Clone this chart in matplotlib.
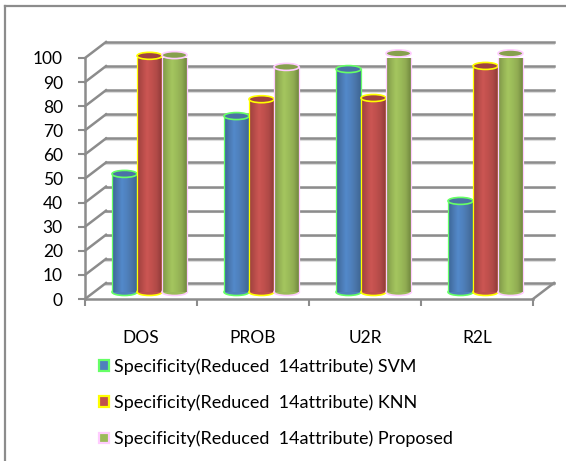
import numpy as np
from matplotlib import pyplot as plt
from matplotlib.colors import LinearSegmentedColormap
from matplotlib.lines import Line2D
from matplotlib.patches import Ellipse, Patch

categories = ['DOS', 'PROB', 'U2R', 'R2L']
series_names = ['Specificity(Reduced  14attribute) SVM',
                'Specificity(Reduced  14attribute) KNN',
                'Specificity(Reduced  14attribute) Proposed']
svm = [49, 73, 92.5, 37.8]
knn = [98, 80, 80.5, 93.8]
proposed = [98.3, 93.4, 99, 99]
y_ticks = list(range(0, 101, 10))

plt.rcParams['font.family'] = ['Lato', 'DejaVu Sans']

W, H = 566, 461
GRAY = '#8c8c8c'

series = [svm, knn, proposed]
edges = ['#66ff66', '#ffff00', '#ffccff']
mains = ['#4f81bd', '#c0504d', '#9bbb59']
tops = ['#4a72a6', '#a04340', '#87a04e']
shades = [['#3b6596', '#4a78b0', '#5389ca', '#4f81bd', '#4a75a8', '#3e6694'],
          ['#9c403e', '#b54b48', '#cc5653', '#c0504d', '#b04a47', '#8f3b39'],
          ['#7c9347', '#93b054', '#a5c65f', '#9bbb59', '#90ab52', '#71883f']]

fig = plt.figure(figsize=(W / 100, H / 100), dpi=100)
ax = fig.add_axes([85 / W, 1 - 299 / H, 448 / W, 241 / H])

px = 4 / 448       # one pixel in x units
py = 100 / 241     # one pixel in y units
dx, dy = 21 * px, 16 * py
base = 7 * py
bar_w = 25 * px
start = 27 * px

# back wall and floor
for v in y_ticks:
    ax.plot([dx, 4 + dx], [v + dy - 1.6 * py] * 2, color='#dcdcdc', lw=1.5, zorder=1, clip_on=False)
    ax.plot([dx, 4 + dx], [v + dy] * 2, color=GRAY, lw=1.8, zorder=2, clip_on=False)
    ax.plot([0, dx], [v, v + dy], color=GRAY, lw=1.8, zorder=2, clip_on=False)
ax.plot([4, 4 + dx], [0, dy], color=GRAY, lw=1.8, zorder=2, clip_on=False)

# cylinders
for i, values in enumerate(series):
    cmap = LinearSegmentedColormap.from_list('c%d' % i, shades[i])
    for j, val in enumerate(values):
        x0 = j + start + i * bar_w
        x1 = x0 + bar_w
        xc = (x0 + x1) / 2
        top = base + val
        ax.add_patch(Ellipse((xc, base), bar_w, 7 * py, facecolor=mains[i], edgecolor=edges[i],
                             lw=1.2, zorder=4 + i))
        ax.imshow(np.linspace(0, 1, 64).reshape(1, -1), cmap=cmap, aspect='auto',
                  extent=(x0, x1, base, top), zorder=4 + i)
        ax.plot([x0, x0], [base, top], color=edges[i], lw=0.9, zorder=4 + i)
        ax.plot([x1, x1], [base, top], color=edges[i], lw=0.9, zorder=4 + i)
        ax.add_patch(Ellipse((xc, top), bar_w, 7 * py, facecolor=tops[i], edgecolor=edges[i],
                             lw=1.2, zorder=4 + i, clip_on=False))

ax.set_xlim(0, 4)
ax.set_ylim(0, 100)
ax.set_facecolor('none')

for s in ['top', 'right']:
    ax.spines[s].set_visible(False)
for s in ['left', 'bottom']:
    ax.spines[s].set_color(GRAY)
    ax.spines[s].set_linewidth(1.8)
    ax.spines[s].set_zorder(3)

ax.set_yticks(y_ticks)
ax.tick_params(axis='y', length=5, width=1.5, color=GRAY, labelsize=12.5, pad=11, labelcolor='black')
ax.set_xticks(range(5))
ax.set_xticklabels([])
ax.tick_params(axis='x', which='major', length=5, width=1.5, color=GRAY)
ax.set_xticks([k + 0.5 for k in range(4)], minor=True)
ax.set_xticklabels(categories, minor=True, fontsize=12.5)
ax.tick_params(axis='x', which='minor', length=0, pad=22)

handles = [Patch(facecolor=mains[i], edgecolor=edges[i], lw=1.6) for i in range(3)]
fig.legend(handles, series_names, loc='upper left', bbox_to_anchor=(99 / W, 1 - 358 / H),
           frameon=False, fontsize=13, handlelength=0.55, handleheight=0.55, handletextpad=0.27,
           labelspacing=1.1, borderpad=0, borderaxespad=0)

# chart border, only top and left show
fig.add_artist(Line2D([4.5 / W, 4.5 / W], [0, 1 - 6 / H], color='#8c8c8c', lw=1.6))
fig.add_artist(Line2D([4.5 / W, 1], [1 - 6 / H, 1 - 6 / H], color='#8c8c8c', lw=1.6))

fig.savefig('out.png', dpi=100)
